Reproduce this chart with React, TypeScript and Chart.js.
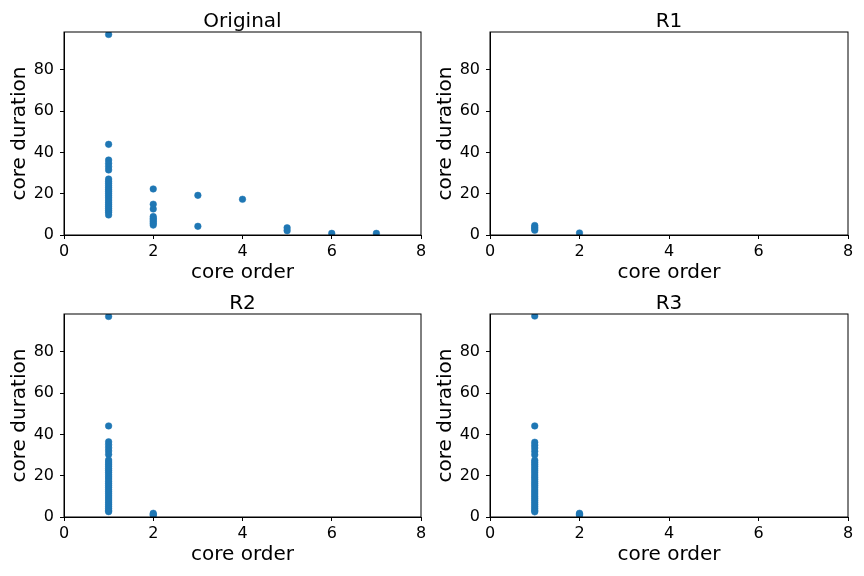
import React, { useEffect, useRef } from "react";
import { Chart, registerables } from "chart.js";

Chart.register(...registerables);

// ---- data ----
const xTicks = [0, 2, 4, 6, 8];
const yTicks = [0, 20, 40, 60, 80];
const yMax = 98.3;
const titles = ["Original", "R1", "R2", "R3"];

const originalX = [
  1, 1, 1, 1, 1, 1, 1, 1, 1, 1, 1, 1, 1, 1, 1, 1, 1, 1, 1, 1, 1, 1, 1, 1,
  2, 2, 2, 2, 2, 2, 2, 2, 2,
  3, 3,
  4,
  5, 5,
  6,
  7,
];
const originalY = [
  97.1, 43.9, 36.3, 34.7, 33.1, 31.5, 27.1, 26.0, 25.0, 23.9, 22.9, 21.9, 21.0, 20.0, 19.0, 18.0, 16.9, 15.9, 14.9, 13.9, 12.9, 11.9, 11.0, 9.7,
  22.3, 14.9, 12.6, 8.9, 8.0, 7.3, 6.5, 5.7, 4.8,
  19.2, 4.2,
  17.3,
  3.5, 2.1,
  0.8,
  0.8,
];

const r1X = [1, 1, 1, 1, 2];
const r1Y = [4.6, 3.8, 3.0, 2.3, 1.0];

const r2X = [
  1, 1, 1, 1, 1, 1, 1, 1, 1, 1, 1, 1, 1, 1, 1, 1, 1, 1, 1, 1, 1, 1, 1, 1, 1, 1, 1, 1, 1, 1, 1, 1, 1,
  2, 2, 2,
];
const r2Y = [
  97.1, 44.1, 36.4, 35.0, 33.5, 32.0, 30.3, 27.6, 26.6, 25.6, 24.6, 23.5, 22.5, 21.5, 20.4, 19.4, 18.4, 17.3, 16.3, 15.3, 14.3, 13.2, 12.2, 11.2, 10.2, 9.2, 8.2, 7.2, 6.2, 5.2, 4.2, 3.2, 2.6,
  1.8, 1.2, 0.8,
];

const r3X = [
  1, 1, 1, 1, 1, 1, 1, 1, 1, 1, 1, 1, 1, 1, 1, 1, 1, 1, 1, 1, 1, 1, 1, 1, 1, 1, 1, 1, 1, 1, 1, 1, 1,
  2, 2, 2,
];
const r3Y = [
  97.3, 44.1, 36.2, 34.8, 33.4, 31.8, 30.1, 27.5, 26.5, 25.5, 24.5, 23.4, 22.4, 21.4, 20.3, 19.3, 18.3, 17.2, 16.2, 15.2, 14.2, 13.1, 12.1, 11.1, 10.1, 9.1, 8.1, 7.1, 6.1, 5.1, 4.1, 3.1, 2.5,
  1.8, 1.3, 0.9,
];

const seriesX = [originalX, r1X, r2X, r3X];
const seriesY = [originalY, r1Y, r2Y, r3Y];

// ---- layout (axes boxes in page pixels) ----
const boxes = [
  { l: 64, r: 421, t: 32, b: 235 },
  { l: 490, r: 848, t: 32, b: 235 },
  { l: 64, r: 421, t: 314, b: 517 },
  { l: 490, r: 848, t: 314, b: 517 },
];

const W = 864;
const H = 576;
const Y_AXIS_W = 64;
const X_AXIS_H = 53;
const FONT = "'DejaVu Sans', sans-serif";
const BLUE = "#1f77b4";

const framePlugin = {
  id: "frameAndTitle",
  afterDraw(chart: any) {
    const { ctx, chartArea } = chart;
    const { left, right, top, bottom } = chartArea;
    ctx.save();
    ctx.strokeStyle = "#000";
    ctx.lineWidth = 1;
    ctx.strokeRect(left, top, right - left, bottom - top);
    ctx.fillStyle = "#000";
    ctx.font = `20px ${FONT}`;
    ctx.textAlign = "center";
    ctx.textBaseline = "alphabetic";
    ctx.fillText(chart.options.plugins.subTitleText, (left + right) / 2, top - 5.5);
    ctx.restore();
  },
};

function Panel({ idx }: { idx: number }) {
  const ref = useRef<HTMLCanvasElement>(null);
  useEffect(() => {
    const box = boxes[idx];
    const data = seriesX[idx].map((x, i) => ({ x, y: seriesY[idx][i] }));
    const chart = new Chart(ref.current as HTMLCanvasElement, {
      type: "scatter",
      data: {
        datasets: [
          {
            data,
            backgroundColor: BLUE,
            borderColor: BLUE,
            pointRadius: 3.3,
            borderWidth: 0.5,
          },
        ],
      },
      options: {
        animation: false,
        responsive: false,
        events: [],
        layout: {
          padding: {
            left: box.l - Y_AXIS_W,
            right: W - box.r,
            top: box.t,
            bottom: H - box.b - X_AXIS_H,
          },
        },
        plugins: {
          legend: { display: false },
          tooltip: { enabled: false },
          title: { display: false },
          subTitleText: titles[idx],
        } as any,
        scales: {
          x: {
            type: "linear",
            min: 0,
            max: 8,
            afterFit(scale: any) {
              scale.height = X_AXIS_H;
            },
            afterBuildTicks(scale: any) {
              scale.ticks = xTicks.map((v) => ({ value: v }));
            },
            grid: {
              drawOnChartArea: false,
              drawTicks: true,
              tickLength: 4,
              color: "#000",
              tickColor: "#000",
            },
            border: { display: true, color: "#000", width: 1 },
            ticks: {
              color: "#000",
              font: { family: FONT, size: 16 },
              padding: 3,
              maxRotation: 0,
              autoSkip: false,
            },
            title: {
              display: true,
              text: "core order",
              color: "#000",
              font: { family: FONT, size: 20 },
              padding: { top: 0, bottom: 3 },
            },
          },
          y: {
            type: "linear",
            min: 0,
            max: yMax,
            afterFit(scale: any) {
              scale.width = Y_AXIS_W;
            },
            afterBuildTicks(scale: any) {
              scale.ticks = yTicks.map((v) => ({ value: v }));
            },
            grid: {
              drawOnChartArea: false,
              drawTicks: true,
              tickLength: 4,
              color: "#000",
              tickColor: "#000",
            },
            border: { display: true, color: "#000", width: 1 },
            ticks: {
              color: "#000",
              font: { family: FONT, size: 16 },
              padding: 6,
              autoSkip: false,
            },
            title: {
              display: true,
              text: "core duration",
              color: "#000",
              font: { family: FONT, size: 20 },
              padding: { top: 7.5, bottom: 0 },
            },
          },
        },
      },
      plugins: [framePlugin],
    });
    return () => chart.destroy();
  }, [idx]);
  return (
    <canvas
      ref={ref}
      width={W}
      height={H}
      style={{ position: "absolute", left: 0, top: 0, width: W, height: H }}
    />
  );
}

export default function App() {
  return (
    <div
      style={{
        position: "fixed",
        left: 0,
        top: 0,
        width: W,
        height: H,
        background: "#fff",
      }}
    >
      {[0, 1, 2, 3].map((i) => (
        <Panel key={i} idx={i} />
      ))}
    </div>
  );
}
